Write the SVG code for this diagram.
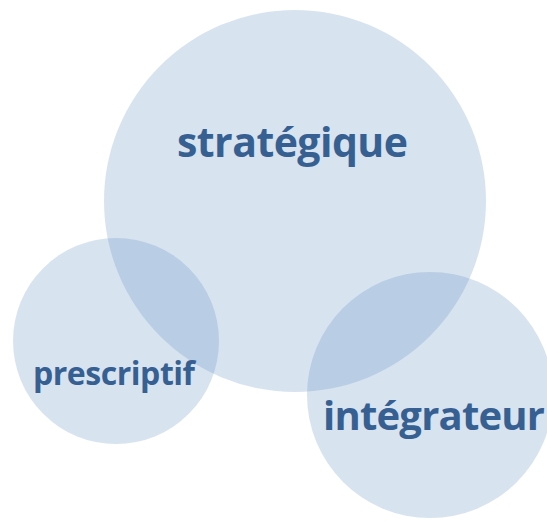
<svg xmlns="http://www.w3.org/2000/svg" width="547" height="522" viewBox="0 0 547 522">
  <style>
    .disc { fill: #4F81BD; fill-opacity: 0.225; }
    .label { font-family: "Open Sans", "Noto Sans", "Liberation Sans", sans-serif; font-weight: bold; fill: #376092; }
  </style>
  <rect width="547" height="522" fill="#FFFFFF"/>
  <g id="strategique">
    <circle class="disc" cx="295" cy="201" r="191"/>
  </g>
  <g id="prescriptif">
    <circle class="disc" cx="116" cy="341" r="103"/>
  </g>
  <g id="integrateur">
    <circle class="disc" cx="430" cy="395" r="123"/>
  </g>
  <g id="labels">
    <text class="label" x="177" y="157" font-size="41" textLength="231" lengthAdjust="spacing">stratégique</text>
    <text class="label" x="33" y="385" font-size="32" textLength="162" lengthAdjust="spacing">prescriptif</text>
    <text class="label" x="323" y="430" font-size="40" textLength="222" lengthAdjust="spacing">intégrateur</text>
  </g>
</svg>
